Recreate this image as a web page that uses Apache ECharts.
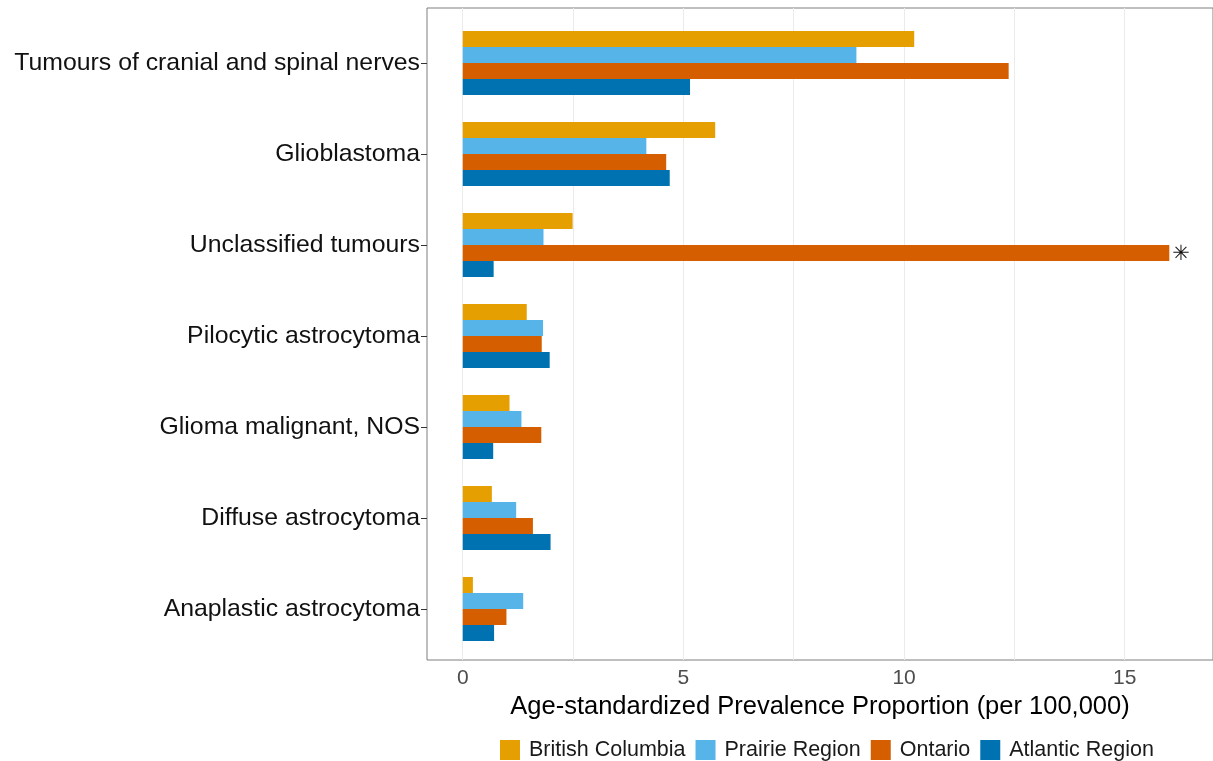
<!DOCTYPE html>
<html>
<head>
<meta charset="utf-8">
<script src="https://cdn.jsdelivr.net/npm/echarts@6/dist/echarts.min.js"></script>
<style>
  html, body { margin: 0; padding: 0; background: #fff; }
  #chart { width: 1213px; height: 761px; }
</style>
</head>
<body>
<div id="chart"></div>
<script>
// Tumour types, top to bottom
const categories = [
  'Tumours of cranial and spinal nerves',
  'Glioblastoma',
  'Unclassified tumours',
  'Pilocytic astrocytoma',
  'Glioma malignant, NOS',
  'Diffuse astrocytoma',
  'Anaplastic astrocytoma'
];

// Age-standardized prevalence proportion (per 100,000), by region
const britishColumbia = [10.23, 5.72, 2.49, 1.45, 1.06, 0.66, 0.23];
const prairieRegion   = [8.92, 4.16, 1.83, 1.82, 1.33, 1.21, 1.37];
const ontario         = [12.37, 4.61, 16.01, 1.79, 1.78, 1.59, 0.99];
const atlanticRegion  = [5.15, 4.69, 0.70, 1.97, 0.69, 1.99, 0.71];

const regionNames = ['British Columbia', 'Prairie Region', 'Ontario', 'Atlantic Region'];
const regionColors = ['#E69F00', '#56B4E9', '#D55E00', '#0072B2'];

// Value flagged with an asterisk
const flagged = { region: 'Ontario', category: 'Unclassified tumours' };

const xTickLabels = [0, 5, 10, 15];
const xGridValues = [0, 2.5, 5, 7.5, 10, 12.5, 15];
const xMin = -0.81, xMax = 17;

const seriesValues = [britishColumbia, prairieRegion, ontario, atlanticRegion];

const font = '"Liberation Sans", Arial, sans-serif';

const series = regionNames.map((name, si) => ({
  name: name,
  type: 'bar',
  xAxisIndex: 1,
  yAxisIndex: 1,
  barWidth: 16,
  barGap: '0%',
  itemStyle: { color: regionColors[si] },
  emphasis: { disabled: true },
  data: seriesValues[si].map((v, ci) => {
    if (name === flagged.region && categories[ci] === flagged.category) {
      return {
        value: v,
        label: {
          show: true, position: 'right', distance: 3, offset: [0, 2],
          formatter: '✳', fontSize: 21, color: '#111', fontFamily: '"DejaVu Sans", sans-serif'
        }
      };
    }
    return v;
  })
}));

const chart = echarts.init(document.getElementById('chart'), null, { renderer: 'canvas' });
chart.setOption({
  animation: false,
  textStyle: { fontFamily: font },
  legend: {
    data: regionNames,
    top: 739,
    left: 500,
    padding: 0,
    icon: 'rect',
    itemWidth: 20,
    itemHeight: 20,
    itemGap: 10,
    textStyle: { fontSize: 21.5, color: '#1a1a1a', fontFamily: font, padding: [0, 0, 0, 4] }
  },
  grid: [
    // panel frame and vertical grid lines
    { left: 427, top: 8, width: 787, height: 652, show: true, borderColor: '#7f7f7f', borderWidth: 1, backgroundColor: 'transparent' },
    // bars
    { left: 427, top: 17.5, width: 787, height: 637 }
  ],
  xAxis: [
    {
      type: 'value', gridIndex: 0, min: xMin, max: xMax,
      axisLine: { show: false },
      axisTick: { show: false, customValues: xGridValues },
      splitLine: { show: true, lineStyle: { color: '#ebebeb', width: 1 } },
      axisLabel: { customValues: xTickLabels, fontSize: 21, color: '#4d4d4d', margin: 8, fontFamily: font },
      name: 'Age-standardized Prevalence Proportion (per 100,000)',
      nameLocation: 'middle',
      nameGap: 32,
      nameTextStyle: { fontSize: 25.5, color: '#000', fontFamily: font }
    },
    {
      type: 'value', gridIndex: 1, min: xMin, max: xMax, show: false
    }
  ],
  yAxis: [
    { type: 'value', gridIndex: 0, show: false },
    {
      type: 'category', gridIndex: 1, data: categories, inverse: true,
      axisLine: { show: false, onZero: false },
      axisTick: { show: true, alignWithLabel: true, length: 6, lineStyle: { color: '#333' } },
      axisLabel: { fontSize: 24.8, color: '#111', margin: 7, fontFamily: font, padding: [3, 0, 0, 0] },
      splitLine: { show: false }
    }
  ],
  series: series
});
</script>
</body>
</html>
